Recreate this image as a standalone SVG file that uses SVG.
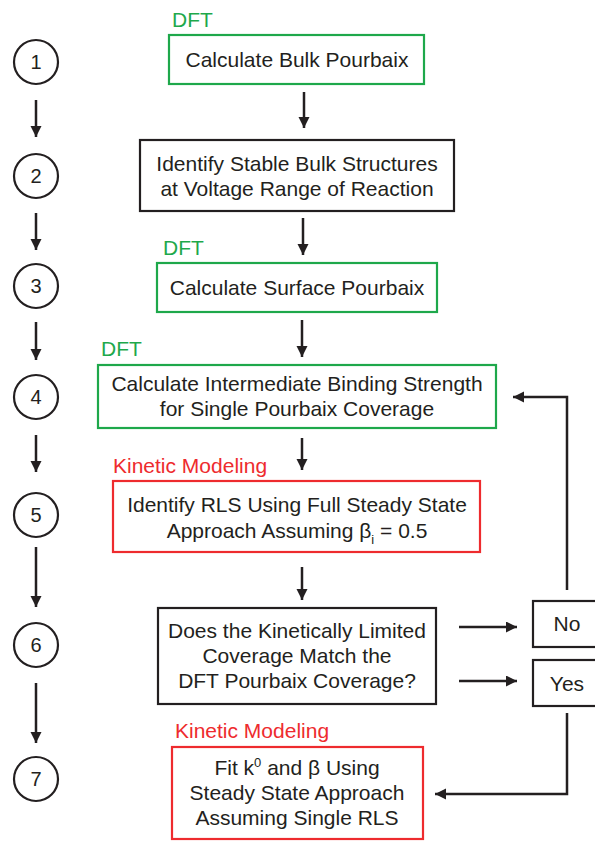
<svg xmlns="http://www.w3.org/2000/svg" width="595" height="841" viewBox="0 0 595 841">
<defs>
<marker id="ah" markerUnits="userSpaceOnUse" markerWidth="12" markerHeight="12" refX="11" refY="5.5" orient="auto">
<path d="M0,0 L11,5.5 L0,11 z" fill="#231f20"/>
</marker>
<style>
text{font-family:"Liberation Sans",Arial,sans-serif;font-size:21px;fill:#231f20;text-anchor:middle}
.lbl{text-anchor:start}
.g{fill:#1ea84b}
.r{fill:#ee2b2e}
.bx{fill:#fff;stroke-width:2.2}
.gb{stroke:#1ea84b}
.rb{stroke:#ee2b2e}
.kb{stroke:#231f20}
.c{fill:#fff;stroke:#231f20;stroke-width:2.2}
.num{font-size:20px}
.cn{fill:none;stroke:#231f20;stroke-width:2.5;marker-end:url(#ah)}
</style>
</defs>
<g id="steps">
<g id="s1"><circle class="c" cx="36" cy="62" r="22"/><text class="num" x="36" y="69">1</text></g>
<g id="s2"><circle class="c" cx="36" cy="176" r="22"/><text class="num" x="36" y="183">2</text></g>
<g id="s3"><circle class="c" cx="36" cy="286" r="22"/><text class="num" x="36" y="293">3</text></g>
<g id="s4"><circle class="c" cx="36" cy="397" r="22"/><text class="num" x="36" y="404">4</text></g>
<g id="s5"><circle class="c" cx="36" cy="515" r="22"/><text class="num" x="36" y="522">5</text></g>
<g id="s6"><circle class="c" cx="36" cy="645" r="22"/><text class="num" x="36" y="652">6</text></g>
<g id="s7"><circle class="c" cx="36" cy="779" r="22"/><text class="num" x="36" y="786">7</text></g>
</g>
<g id="box1"><text class="lbl g" x="172" y="27">DFT</text><rect class="bx gb" x="169" y="35" width="255" height="49"/><text x="297" y="67">Calculate Bulk Pourbaix</text></g>
<g id="box2"><rect class="bx kb" x="140" y="140" width="314" height="71"/><text x="297" y="171">Identify Stable Bulk Structures</text><text x="297" y="196">at Voltage Range of Reaction</text></g>
<g id="box3"><text class="lbl g" x="163" y="255">DFT</text><rect class="bx gb" x="157" y="263" width="280" height="49"/><text x="297" y="295">Calculate Surface Pourbaix</text></g>
<g id="box4"><text class="lbl g" x="101" y="356">DFT</text><rect class="bx gb" x="98" y="365" width="398" height="63"/><text x="297" y="391">Calculate Intermediate Binding Strength</text><text x="297" y="416">for Single Pourbaix Coverage</text></g>
<g id="box5"><text class="lbl r" x="113" y="473">Kinetic Modeling</text><rect class="bx rb" x="113" y="481" width="367" height="71"/><text x="297" y="512">Identify RLS Using Full Steady State</text><text x="297" y="538">Approach Assuming β<tspan font-size="13" dy="6">i</tspan><tspan dy="-6"> = 0.5</tspan></text></g>
<g id="box6"><rect class="bx kb" x="158" y="608" width="278" height="96"/><text x="297" y="638">Does the Kinetically Limited</text><text x="297" y="663">Coverage Match the</text><text x="297" y="688">DFT Pourbaix Coverage?</text></g>
<g id="no"><rect class="bx kb" x="533" y="601" width="70" height="46"/><text x="567" y="631">No</text></g>
<g id="yes"><rect class="bx kb" x="533" y="660" width="70" height="46"/><text x="567" y="691">Yes</text></g>
<g id="box7"><text class="lbl r" x="175" y="738">Kinetic Modeling</text><rect class="bx rb" x="172" y="747" width="251" height="92"/><text x="297" y="775">Fit k<tspan font-size="13" dy="-8">0</tspan><tspan dy="8"> and β Using</tspan></text><text x="297" y="800">Steady State Approach</text><text x="297" y="825">Assuming Single RLS</text></g>
<g id="connectors">
<line class="cn" x1="36" y1="100" x2="36" y2="137"/>
<line class="cn" x1="36" y1="213" x2="36" y2="250"/>
<line class="cn" x1="36" y1="322" x2="36" y2="360"/>
<line class="cn" x1="36" y1="435" x2="36" y2="472"/>
<line class="cn" x1="36" y1="547" x2="36" y2="607"/>
<line class="cn" x1="36" y1="683" x2="36" y2="743"/>
<line class="cn" x1="304" y1="92" x2="304" y2="128"/>
<line class="cn" x1="303" y1="218" x2="303" y2="255"/>
<line class="cn" x1="302" y1="320" x2="302" y2="357"/>
<line class="cn" x1="302" y1="438" x2="302" y2="470"/>
<line class="cn" x1="302" y1="567" x2="302" y2="600"/>
<line class="cn" x1="459" y1="627" x2="517" y2="627"/>
<line class="cn" x1="459" y1="681" x2="517" y2="681"/>
<polyline class="cn" points="567,590 567,397 513,397"/>
<polyline class="cn" points="567,713 567,794 435,794"/>
</g>
</svg>
